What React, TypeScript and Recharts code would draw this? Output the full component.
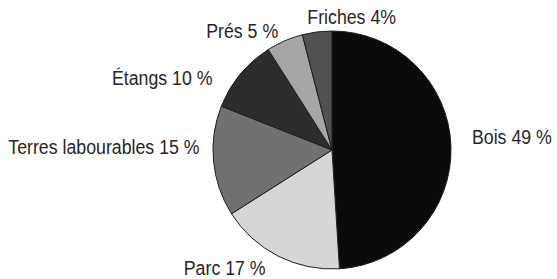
import { PieChart, Pie, Cell } from 'recharts';

const CATEGORIES = ['Bois', 'Parc', 'Terres labourables', 'Étangs', 'Prés', 'Friches'];
const PERCENTS = [49, 17, 15, 10, 5, 4];
const LABELS = ['Bois 49 %', 'Parc 17 %', 'Terres labourables 15 %', 'Étangs 10 %', 'Prés 5 %', 'Friches 4%'];

const COLORS = ['#0b0b0b', '#d6d6d6', '#717171', '#2d2d2d', '#a6a6a6', '#525252'];
// small per-label nudges [dx, dy] so the labels sit like the printed figure
const NUDGE: Record<string, [number, number]> = {
  Bois: [7, -9],
  Parc: [-6, -1],
  'Terres labourables': [0, -16],
  Étangs: [-17, 12],
  Prés: [-1, 2],
  Friches: [-8, -2],
};

const data = CATEGORIES.map((name, i) => ({ name, value: PERCENTS[i], label: LABELS[i] }));

const RAD = Math.PI / 180;

function renderLabel(props: any) {
  const { cx, cy, midAngle, outerRadius, payload } = props;
  const r = outerRadius + 14;
  const cos = Math.cos(-midAngle * RAD);
  const sin = Math.sin(-midAngle * RAD);
  const [dx, dy] = NUDGE[payload.name] || [0, 0];
  const x = cx + r * cos + dx;
  const y = cy + r * sin + dy;
  const anchor = Math.abs(cos) < 0.15 || cos > 0 ? 'start' : 'end';
  // condensed face: Liberation Sans squeezed horizontally
  return (
    <text
      transform={`translate(${x},${y}) scale(0.845,1)`}
      x={0}
      y={0}
      textAnchor={anchor}
      dominantBaseline='central'
      fill='#262626'
      fontSize={21}
      fontFamily='"Liberation Sans", Arial, sans-serif'
    >
      {payload.label}
    </text>
  );
}

export default function App() {
  return (
    <div style={{ position: 'absolute', left: 0, top: 0, background: '#fff' }}>
      <PieChart width={557} height={279} margin={{ top: 0, right: 0, bottom: 0, left: 0 }}>
        <Pie
          data={data}
          dataKey='value'
          nameKey='name'
          cx={332}
          cy={150}
          outerRadius={119}
          startAngle={90}
          endAngle={-270}
          stroke='#1e1e1e'
          strokeWidth={1}
          label={renderLabel}
          labelLine={false}
          isAnimationActive={false}
        >
          {data.map((d, i) => (
            <Cell key={d.name} fill={COLORS[i]} />
          ))}
        </Pie>
      </PieChart>
    </div>
  );
}
